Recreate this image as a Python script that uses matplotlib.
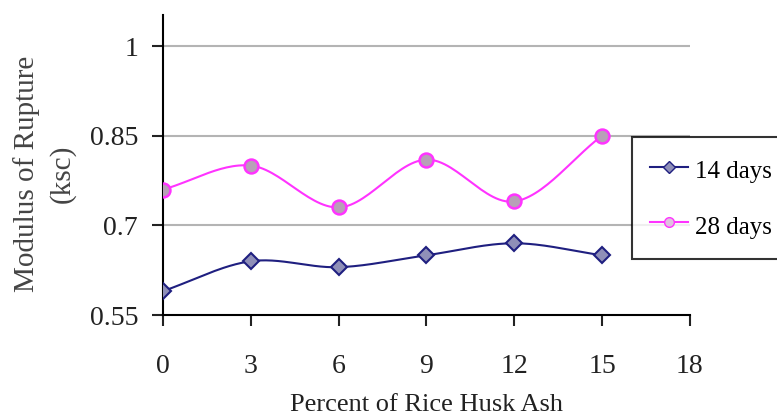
import numpy as np
import matplotlib
matplotlib.use("Agg")
from matplotlib import pyplot as plt

# data
rha = [0, 3, 6, 9, 12, 15]
mor_14 = [0.59, 0.64, 0.63, 0.65, 0.67, 0.65]
mor_28 = [0.76, 0.80, 0.73, 0.81, 0.74, 0.85]
xticks = [0, 3, 6, 9, 12, 15, 18]
yticks = [0.55, 0.7, 0.85, 1]


def smooth(x, y, n=30):
    # catmull-rom curve through the points (like excel's smoothed line)
    x = np.asarray(x, float)
    y = np.asarray(y, float)
    px = np.concatenate([[2 * x[0] - x[1]], x, [2 * x[-1] - x[-2]]])
    py = np.concatenate([[2 * y[0] - y[1]], y, [2 * y[-1] - y[-2]]])
    xs, ys = [], []
    t = np.linspace(0, 1, n)
    for i in range(1, len(px) - 2):
        for p, out in ((px, xs), (py, ys)):
            p0, p1, p2, p3 = p[i - 1], p[i], p[i + 1], p[i + 2]
            out.extend(0.5 * (2 * p1 + (-p0 + p2) * t
                              + (2 * p0 - 5 * p1 + 4 * p2 - p3) * t ** 2
                              + (-p0 + 3 * p1 - 3 * p2 + p3) * t ** 3))
    return xs, ys


plt.rcParams['font.family'] = ['Liberation Serif', 'DejaVu Serif']

fig = plt.figure(figsize=(7.77, 4.17), dpi=100)
ax = fig.add_axes([0.2098, 0.2446, 0.678, 0.7194])

navy = '#1f1f80'
pink = '#ff33ff'

sx, sy = smooth(rha, mor_14)
ax.plot(sx, sy, color=navy, lw=1.5, zorder=3)
ax.plot(rha, mor_14, ls='none', marker='D', ms=8, mfc='#8f8fb8', mec=navy, mew=1.5, zorder=4)
sx, sy = smooth(rha, mor_28)
ax.plot(sx, sy, color=pink, lw=1.5, zorder=3)
ax.plot(rha, mor_28, ls='none', marker='o', ms=10, mfc='#b7a0b7', mec=pink, mew=1.8, zorder=4)

# legend handles
h1, = ax.plot([], [], color=navy, lw=1.5, marker='D', ms=6, mfc='#8f8fb8', mec=navy)
h2, = ax.plot([], [], color=pink, lw=1.5, marker='o', ms=7, mfc='#e0c0e0', mec=pink)

ax.set_xlim(0, 18)
ax.set_ylim(0.55, 1.052)
ax.set_xticks(xticks)
ax.set_xticklabels([str(v) for v in xticks])
ax.set_yticks(yticks)
ax.set_yticklabels(['0.55', '0.7', '0.85', '1'])
for v in yticks[1:]:
    ax.axhline(v, color='#b4b4b4', lw=1.5, zorder=1)

for s in ['top', 'right']:
    ax.spines[s].set_visible(False)
for s in ['left', 'bottom']:
    ax.spines[s].set_linewidth(1.5)
ax.tick_params(direction='out', length=8, width=1.5, labelsize=20, colors='#222222')
ax.tick_params(axis='x', pad=20)
ax.tick_params(axis='y', pad=10)

ax.set_xlabel('Percent of Rice Husk Ash', fontsize=19, color='#222222', labelpad=11)
ax.set_ylabel('Modulus of Rupture\n(ksc)', fontsize=21, color='#444444', linespacing=1.45)
ax.yaxis.set_label_coords(-0.165, 0.47)

leg = fig.legend([h1, h2], ['14 days', '28 days'], loc='upper left',
                 bbox_to_anchor=(0.814, 0.672), fontsize=18, frameon=True,
                 fancybox=False, borderpad=0.72, labelspacing=1.0,
                 handleheight=1.5, handlelength=1.5, handletextpad=0.3,
                 borderaxespad=0)
leg.get_frame().set_edgecolor('black')
leg.get_frame().set_linewidth(1.5)

fig.savefig('out.png', dpi=100)
